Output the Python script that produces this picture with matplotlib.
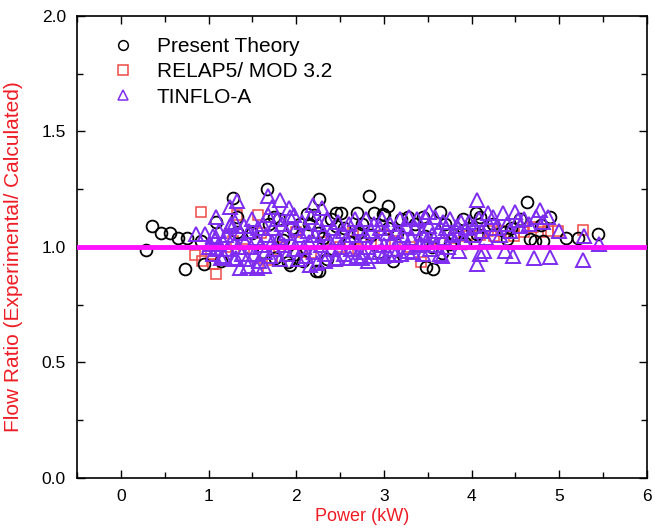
import numpy as np
import matplotlib.pyplot as plt
from matplotlib.ticker import MultipleLocator

plt.rcParams['font.family'] = ['Liberation Sans', 'DejaVu Sans']

# Present Theory (black circles)
theory_x = [0.29, 0.36, 0.46, 0.56, 0.65, 0.76, 0.73, 0.91, 0.95, 1.09, 1.14, 1.28, 1.33, 1.33,
            1.67, 1.69, 1.76, 1.91, 1.93, 2.04, 2.08, 2.12, 2.23, 2.26, 2.26, 2.45, 2.51, 2.69,
            2.83, 2.89, 2.99, 3.05, 3.10, 3.28, 3.47, 3.48, 3.56, 3.64, 3.66, 3.76, 3.93, 4.05,
            4.10, 4.06, 4.38, 4.40, 4.63, 4.67, 4.72, 4.79, 4.82, 4.89, 5.08, 5.21, 5.44,
            1.50, 1.80, 1.85, 2.00, 2.15, 2.30, 2.35, 2.55, 2.60, 2.75, 2.85, 2.95, 3.05, 3.20,
            3.35, 3.45, 3.55, 3.70, 3.80, 3.90, 4.00, 4.25, 4.45, 4.55, 1.62, 1.95, 2.40, 2.70,
            3.15, 2.20, 2.25, 2.45, 1.75, 3.00]
theory_y = [0.985, 1.089, 1.059, 1.059, 1.037, 1.037, 0.905, 1.024, 0.926, 1.107, 0.938, 1.210, 1.130, 1.067,
            1.249, 1.100, 0.953, 0.935, 0.923, 1.098, 0.938, 1.142, 0.898, 1.209, 0.898, 1.149, 1.149, 1.149,
            1.219, 1.149, 1.142, 1.179, 0.938, 1.130, 1.049, 0.913, 0.905, 1.152, 0.975, 1.012, 1.019, 1.145,
            1.130, 1.056, 1.064, 1.034, 1.194, 1.034, 1.027, 1.096, 1.027, 1.130, 1.037, 1.037, 1.056,
            1.06, 1.12, 1.03, 0.97, 1.10, 1.04, 0.95, 1.08, 1.02, 1.10, 1.05, 0.98, 1.08, 1.12,
            1.10, 1.13, 1.00, 1.10, 1.05, 1.12, 1.08, 1.10, 1.08, 1.12, 0.98, 1.08, 1.12, 1.06,
            1.06, 1.14, 1.06, 1.09, 1.13, 1.14]

# RELAP5/ MOD 3.2 (red squares)
relap_x = [0.91, 0.84, 0.93, 1.03, 1.05, 1.08, 1.32, 1.28, 1.56, 1.56, 1.72, 2.00, 2.17, 2.65,
           2.85, 3.13, 3.42, 3.64, 3.95, 4.19, 4.26, 4.34, 4.48, 4.60, 4.70, 4.79, 4.87, 4.99, 5.27,
           2.30, 2.50, 3.00, 3.30, 1.80, 1.40, 1.20, 2.70, 3.80, 4.10, 1.60, 2.10]
relap_y = [1.152, 0.967, 0.941, 0.964, 0.926, 0.882, 1.138, 1.027, 0.908, 1.138, 0.945, 1.064, 0.975, 1.071,
           1.012, 1.027, 0.935, 1.019, 1.049, 1.071, 1.049, 1.071, 1.049, 1.064, 1.086, 1.067, 1.071, 1.071, 1.074,
           1.02, 1.00, 1.05, 1.00, 1.00, 0.99, 1.00, 0.99, 1.04, 1.05, 1.06, 0.98]

# TINFLO-A (purple triangles)
tinflo_x = [0.86, 0.96, 1.05, 1.09, 1.02, 1.12, 1.14, 1.24, 1.33, 1.26, 1.36, 1.31, 1.45, 1.55,
            1.63, 1.68, 1.72, 1.81, 1.92, 1.98, 2.19, 2.29, 2.16, 2.33, 2.46, 2.61, 2.75, 2.82,
            2.99, 3.13, 3.28, 3.42, 3.52, 3.66, 3.86, 4.06, 4.06, 4.10, 4.14, 4.19, 4.36, 4.38,
            4.47, 4.50, 4.53, 4.71, 4.78, 4.87, 4.89, 5.00, 5.27, 5.28, 5.45,
            1.00, 1.05, 1.08, 1.10, 1.12, 1.17, 1.18, 1.20, 1.22, 1.24, 1.27, 1.29, 1.30,
            1.34, 1.36, 1.38, 1.40, 1.42, 1.44, 1.46, 1.48,
            1.50, 1.52, 1.54, 1.56, 1.58, 1.60, 1.62, 1.64, 1.66, 1.68,
            1.70, 1.72, 1.74, 1.76, 1.78, 1.80, 1.82, 1.84, 1.86, 1.88,
            1.90, 1.93, 1.95, 1.97, 2.00, 2.02, 2.05, 2.07, 2.09,
            2.11, 2.13, 2.15, 2.17, 2.20, 2.22, 2.24, 2.26, 2.28,
            2.31, 2.33, 2.35, 2.37, 2.40, 2.42, 2.44, 2.46, 2.48,
            2.50, 2.53, 2.55, 2.57, 2.60, 2.62, 2.64, 2.67, 2.69,
            2.71, 2.73, 2.76, 2.78, 2.80, 2.82, 2.85, 2.87, 2.89,
            2.92, 2.94, 2.96, 2.98, 3.00, 3.03, 3.05, 3.07, 3.09,
            3.11, 3.14, 3.16, 3.18, 3.20, 3.22, 3.25, 3.27, 3.29,
            3.31, 3.33, 3.36, 3.38, 3.40, 3.43, 3.45, 3.47, 3.49,
            3.51, 3.53, 3.55, 3.58, 3.60, 3.62, 3.64, 3.67, 3.69,
            3.71, 3.73, 3.76, 3.78, 3.80, 3.83, 3.86, 3.88,
            3.91, 3.94, 3.97, 4.00, 4.03, 4.08,
            4.12, 4.16, 4.20, 4.24, 4.28, 4.32, 4.40, 4.44, 4.55, 4.60, 4.65, 4.74, 4.82]
tinflo_y = [1.056, 1.056, 1.049, 1.130, 1.015, 1.012, 0.953, 1.175, 1.197, 1.100, 0.908, 0.953, 0.916, 0.908,
            0.916, 1.219, 1.175, 1.204, 1.167, 1.138, 1.182, 1.167, 0.923, 0.938, 0.953, 0.953, 0.953, 0.938,
            0.960, 0.967, 0.982, 1.012, 1.152, 0.960, 0.982, 1.204, 0.926, 0.970, 0.982, 1.145, 1.145, 0.982,
            0.960, 1.152, 1.115, 0.953, 1.160, 1.130, 0.956, 1.071, 0.945, 1.049, 1.012,
            1.00, 0.97, 1.04, 0.99, 1.07, 1.02, 0.96, 1.05, 0.99, 1.09, 1.03, 0.95, 1.11,
            1.00, 1.06, 0.97, 1.09, 1.02, 0.95, 1.07, 1.00,
            1.12, 0.97, 1.04, 1.08, 0.94, 1.01, 1.10, 0.98, 1.05, 1.14,
            0.96, 1.02, 1.08, 0.99, 1.12, 1.04, 0.95, 1.10, 1.01, 1.06,
            0.97, 1.13, 1.03, 0.99, 1.08, 0.95, 1.05, 1.11, 1.00,
            0.96, 1.07, 1.02, 1.13, 0.98, 1.05, 0.93, 1.10, 1.01,
            1.06, 0.97, 1.12, 1.03, 0.99, 1.08, 0.95, 1.04, 1.11,
            1.00, 1.07, 0.97, 1.03, 1.10, 0.99, 1.05, 1.12, 0.96,
            1.02, 1.08, 0.98, 1.05, 1.12, 1.00, 1.07, 0.96, 1.10,
            1.03, 0.98, 1.08, 1.12, 1.01, 1.06, 0.97, 1.10, 1.03,
            0.99, 1.07, 1.02, 1.12, 0.97, 1.05, 1.09, 1.00, 1.13,
            1.04, 0.98, 1.08, 1.12, 1.01, 1.06, 0.97, 1.13, 1.03,
            1.09, 0.99, 1.05, 1.13, 1.01, 1.07, 0.97, 1.11, 1.04,
            1.08, 1.00, 1.12, 1.05, 1.02, 1.09, 1.06, 1.11,
            1.03, 1.08, 1.11, 1.05, 1.09, 1.12,
            1.07, 1.04, 1.10, 1.13, 1.08, 1.05, 1.10, 1.07, 1.09, 1.12, 1.10, 1.13, 1.11]

fig = plt.figure(figsize=(6.55, 5.32), dpi=100)
ax = fig.add_axes([0.1176, 0.1015, 0.87, 0.8685])

ax.plot(relap_x, relap_y, 's', ms=7.5, mfc='none', mec='#ef4a45', mew=1.1, label='RELAP5/ MOD 3.2')
ax.plot(theory_x, theory_y, 'o', ms=8.5, mfc='none', mec='black', mew=1.3, label='Present Theory')
ax.plot(tinflo_x, tinflo_y, '^', ms=9.5, mfc='none', mec='#7d2cf0', mew=1.4, label='TINFLO-A')

# linea de referencia
ax.axhline(1.0, color='#ff10ff', lw=3.5, zorder=5)

ax.set_xlim(-0.5, 6)
ax.set_ylim(0, 2)
ax.xaxis.set_major_locator(MultipleLocator(1))
ax.xaxis.set_minor_locator(MultipleLocator(0.5))
ax.yaxis.set_major_locator(MultipleLocator(0.5))
ax.yaxis.set_minor_locator(MultipleLocator(0.25))
ax.yaxis.set_major_formatter(plt.FormatStrFormatter('%.1f'))
ax.tick_params(which='both', direction='in', top=True, right=True, labelsize=12.5, width=1)
ax.tick_params(which='major', length=6, pad=8)
ax.tick_params(which='minor', length=4)
for s in ax.spines.values():
    s.set_linewidth(1.2)

ax.set_xlabel('Power (kW)', color='#ee1c24', fontsize=13, labelpad=3)
ax.set_ylabel('Flow Ratio (Experimental/ Calculated)', color='#ee1c24', fontsize=15)
ax.yaxis.set_label_coords(-0.095, 0.48)

h, l = ax.get_legend_handles_labels()
order = [1, 0, 2]
leg = ax.legend([h[i] for i in order], [l[i] for i in order], loc='upper left',
                bbox_to_anchor=(0.03, 0.995), frameon=False, fontsize=15,
                handlelength=1.0, handletextpad=1.1, labelspacing=0.3)
for hd in leg.legend_handles:
    hd.set_markersize(7)
    hd.set_markeredgewidth(1.1)

fig.savefig('out.png', dpi=100)
